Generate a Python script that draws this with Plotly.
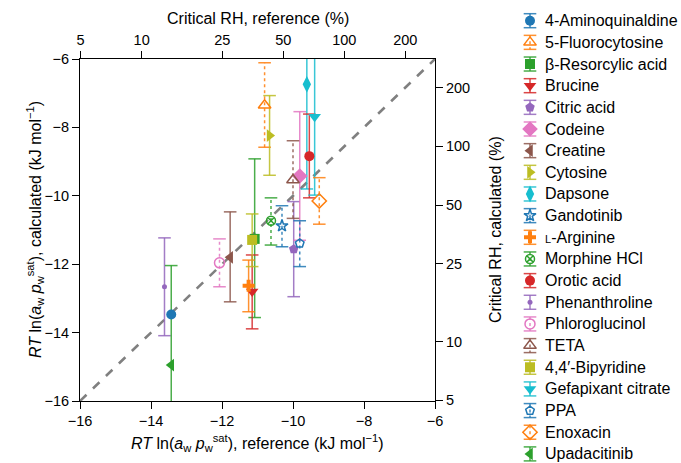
import numpy as np
import plotly.graph_objects as go

# ---------------- data ----------------
names = ["4-Aminoquinaldine", "5-Fluorocytosine", "β-Resorcylic acid", "Brucine",
         "Citric acid", "Codeine", "Creatine", "Cytosine", "Dapsone", "Gandotinib",
         "<span style='font-size:11px'>L</span>-Arginine", "Morphine HCl", "Orotic acid",
         "Phenanthroline", "Phloroglucinol", "TETA", "4,4′-Bipyridine",
         "Gefapixant citrate", "PPA", "Enoxacin", "Upadacitinib"]
x_ref = [-13.43, -10.80, -11.08, -11.15, -9.98, -9.81, -11.77, -10.66, -9.61, -10.31,
         -11.25, -10.62, -9.54, -13.62, -12.07, -10.00, -11.15, -9.39, -9.81, -9.26, -13.43]
y_calc = [-13.47, -7.35, -11.26, -12.80, -11.56, -9.42, -11.80, -8.24, -6.74, -10.88,
          -12.63, -10.73, -8.84, -12.66, -11.96, -9.54, -11.29, -7.69, -11.39, -10.15, -14.95]
y_hi = [None, -6.11, -8.92, -11.73, -10.17, -7.54, -10.47, -7.07, -3.70, -10.29,
        -11.88, -10.06, -7.61, -11.23, -11.26, -8.39, -10.53, -5.40, -10.73, -9.47, -12.04]
y_lo = [None, -8.58, -13.56, -13.89, -12.95, -11.30, -13.10, -9.40, -9.80, -11.49,
        -13.39, -11.44, -10.06, -14.09, -12.66, -10.66, -12.07, -9.98, -12.07, -10.83, -17.86]

rh_ticks = [5, 10, 25, 50, 100, 200]
main_ticks = [-16, -14, -12, -10, -8, -6]

# ---------------- styles ----------------
C = ["#1f77b4", "#ff7f0e", "#2ca02c", "#d62728", "#9467bd", "#e377c2", "#8c564b",
     "#bcbd22", "#17becf"]
colors = [C[0], C[1], C[2], C[3], C[4], C[5], C[6], C[7], C[8], C[0],
          C[1], C[2], C[3], C[4], C[5], C[6], C[7], C[8], C[0], C[1], C[2]]
symbols = ["circle", "triangle-up-open", "square", "triangle-down", "pentagon", "diamond",
           "triangle-left", "triangle-right", "diamond-tall", "star-open",
           "cross", "circle-x-open", "circle", "circle", "circle-open", "triangle-up-open",
           "square", "triangle-down", "pentagon-open", "diamond-open", "triangle-left"]
sizes = [10, 11, 10, 11, 10, 12, 11, 11, 12, 9, 10, 9, 10, 5, 10, 11, 10, 11, 9, 11, 11]
dotted = [False, True, False, False, False, False, False, False, False, True,
          False, True, False, False, True, True, False, False, True, True, False]

FONT = "Liberation Sans, Arial, Helvetica, sans-serif"
W, H = 681, 463
PLOT_L, PLOT_R, PLOT_T, PLOT_B = 80, 435, 59, 401
LEG_X0 = 510.0
LEG_SYM_X, LEG_TXT_X = 530.0, 543.0
LEG_Y0, LEG_DY = 20.7, 21.66

RT = 8.314 * 298.15 / 1000.0
PSAT = 0.03169  # bar


def rh_to_e(rh):
    return RT * np.log(rh / 100.0 * PSAT)


fig = go.Figure()

# diagonal
fig.add_trace(go.Scatter(x=[main_ticks[0], main_ticks[-1]], y=[main_ticks[0], main_ticks[-1]],
                         mode="lines", line=dict(color="#808080", width=2.6, dash="dash"),
                         showlegend=False, hoverinfo="skip"))

# error bars
for i in range(len(names)):
    if y_hi[i] is None:
        continue
    fig.add_trace(go.Scatter(x=[x_ref[i], x_ref[i]], y=[y_lo[i], y_hi[i]], mode="lines",
                             line=dict(color=colors[i], width=1.5,
                                       dash="dot" if dotted[i] else "solid"),
                             opacity=0.85, showlegend=False, hoverinfo="skip"))
    fig.add_trace(go.Scatter(x=[x_ref[i], x_ref[i]], y=[y_lo[i], y_hi[i]], mode="markers",
                             marker=dict(symbol="line-ew", size=9,
                                         line=dict(color=colors[i], width=1.5)),
                             opacity=0.85, showlegend=False, hoverinfo="skip"))

# markers
for i in range(len(names)):
    is_open = symbols[i].endswith("open")
    fig.add_trace(go.Scatter(
        x=[x_ref[i]], y=[y_calc[i]], mode="markers", showlegend=False,
        marker=dict(symbol=symbols[i], size=sizes[i], color=colors[i],
                    line=dict(color=colors[i], width=1.5 if is_open else 0)),
    ))

# dummy trace for secondary axes
fig.add_trace(go.Scatter(x=[None], y=[None], xaxis="x2", yaxis="y2", showlegend=False))

# ---------------- hand-built legend (on a hidden pixel-scaled axis pair) ----------------
for i in range(len(names)):
    yc = LEG_Y0 + i * LEG_DY
    is_open = symbols[i].endswith("open")
    fig.add_trace(go.Scatter(x=[LEG_SYM_X, LEG_SYM_X], y=[yc - 7, yc + 7], mode="lines",
                             line=dict(color=colors[i], width=1.5,
                                       dash="dot" if dotted[i] else "solid"),
                             opacity=0.85, xaxis="x3", yaxis="y3", showlegend=False,
                             hoverinfo="skip"))
    fig.add_trace(go.Scatter(x=[LEG_SYM_X, LEG_SYM_X], y=[yc - 7, yc + 7], mode="markers",
                             marker=dict(symbol="line-ew", size=9,
                                         line=dict(color=colors[i], width=1.5)),
                             opacity=0.85, xaxis="x3", yaxis="y3", showlegend=False,
                             hoverinfo="skip"))
    fig.add_trace(go.Scatter(x=[LEG_SYM_X], y=[yc], mode="markers",
                             marker=dict(symbol=symbols[i], size=sizes[i], color=colors[i],
                                         line=dict(color=colors[i], width=1.5 if is_open else 0)),
                             xaxis="x3", yaxis="y3", showlegend=False, hoverinfo="skip"))
    fig.add_annotation(x=LEG_TXT_X, y=yc, xref="x3", yref="y3", text=names[i],
                       showarrow=False, xanchor="left", yanchor="middle",
                       font=dict(family=FONT, size=16, color="black"))

tick_font = dict(family=FONT, size=14.5, color="black")
common = dict(showline=True, linecolor="black", linewidth=1, ticks="outside", ticklen=7,
              tickwidth=1, tickcolor="black", showgrid=False, zeroline=False,
              tickfont=tick_font, range=[-16, -6], automargin=False)

rh_pos = [float(rh_to_e(v)) for v in rh_ticks]
xdom = [PLOT_L / W, PLOT_R / W]
ydom = [(H - PLOT_B) / H, (H - PLOT_T) / H]

fig.update_layout(
    width=W, height=H,
    margin=dict(l=0, r=0, t=0, b=0),
    paper_bgcolor="white", plot_bgcolor="rgba(0,0,0,0)",
    font=dict(family=FONT, size=14.5, color="black"),
    showlegend=False,
    xaxis=dict(**common, domain=xdom, anchor="y", tickvals=main_ticks,
               ticktext=[f"−{abs(v)}" for v in main_ticks]),
    yaxis=dict(**common, domain=ydom, anchor="x", tickvals=main_ticks,
               ticktext=[f"−{abs(v)}" for v in main_ticks]),
    xaxis2=dict(**common, overlaying="x", side="top", anchor="y", tickvals=rh_pos,
                ticktext=[str(v) for v in rh_ticks]),
    yaxis2=dict(**common, overlaying="y", side="right", anchor="x", tickvals=rh_pos,
                ticktext=[str(v) for v in rh_ticks]),
    xaxis3=dict(domain=[LEG_X0 / W, 1.0], range=[LEG_X0, W], visible=False, fixedrange=True),
    yaxis3=dict(domain=[0, 1], range=[H, 0], visible=False, fixedrange=True, anchor="x3"),
)

mx = (PLOT_L + PLOT_R) / 2 / W
my = (H - (PLOT_T + PLOT_B) / 2) / H
title_font = dict(family=FONT, size=16, color="black")
sub = "<i>RT</i> ln(<i>a</i><sub>w</sub> <i>p</i><sub>w</sub><sup>sat</sup>)"
fig.add_annotation(text=sub + ", reference (kJ mol<sup>−1</sup>)", xref="paper", yref="paper",
                   x=mx, y=(H - 443) / H, showarrow=False, xanchor="center", yanchor="middle",
                   font=title_font)
fig.add_annotation(text=sub + ", calculated (kJ mol<sup>−1</sup>)", xref="paper", yref="paper",
                   x=35 / W, y=my, showarrow=False, textangle=-90, xanchor="center",
                   yanchor="middle", font=title_font)
fig.add_annotation(text="Critical RH, reference (%)", xref="paper", yref="paper",
                   x=mx, y=(H - 18) / H, showarrow=False, xanchor="center", yanchor="middle",
                   font=title_font)
fig.add_annotation(text="Critical RH, calculated (%)", xref="paper", yref="paper",
                   x=495 / W, y=my, showarrow=False, textangle=-90, xanchor="center",
                   yanchor="middle", font=title_font)

fig.write_html("out.html")
